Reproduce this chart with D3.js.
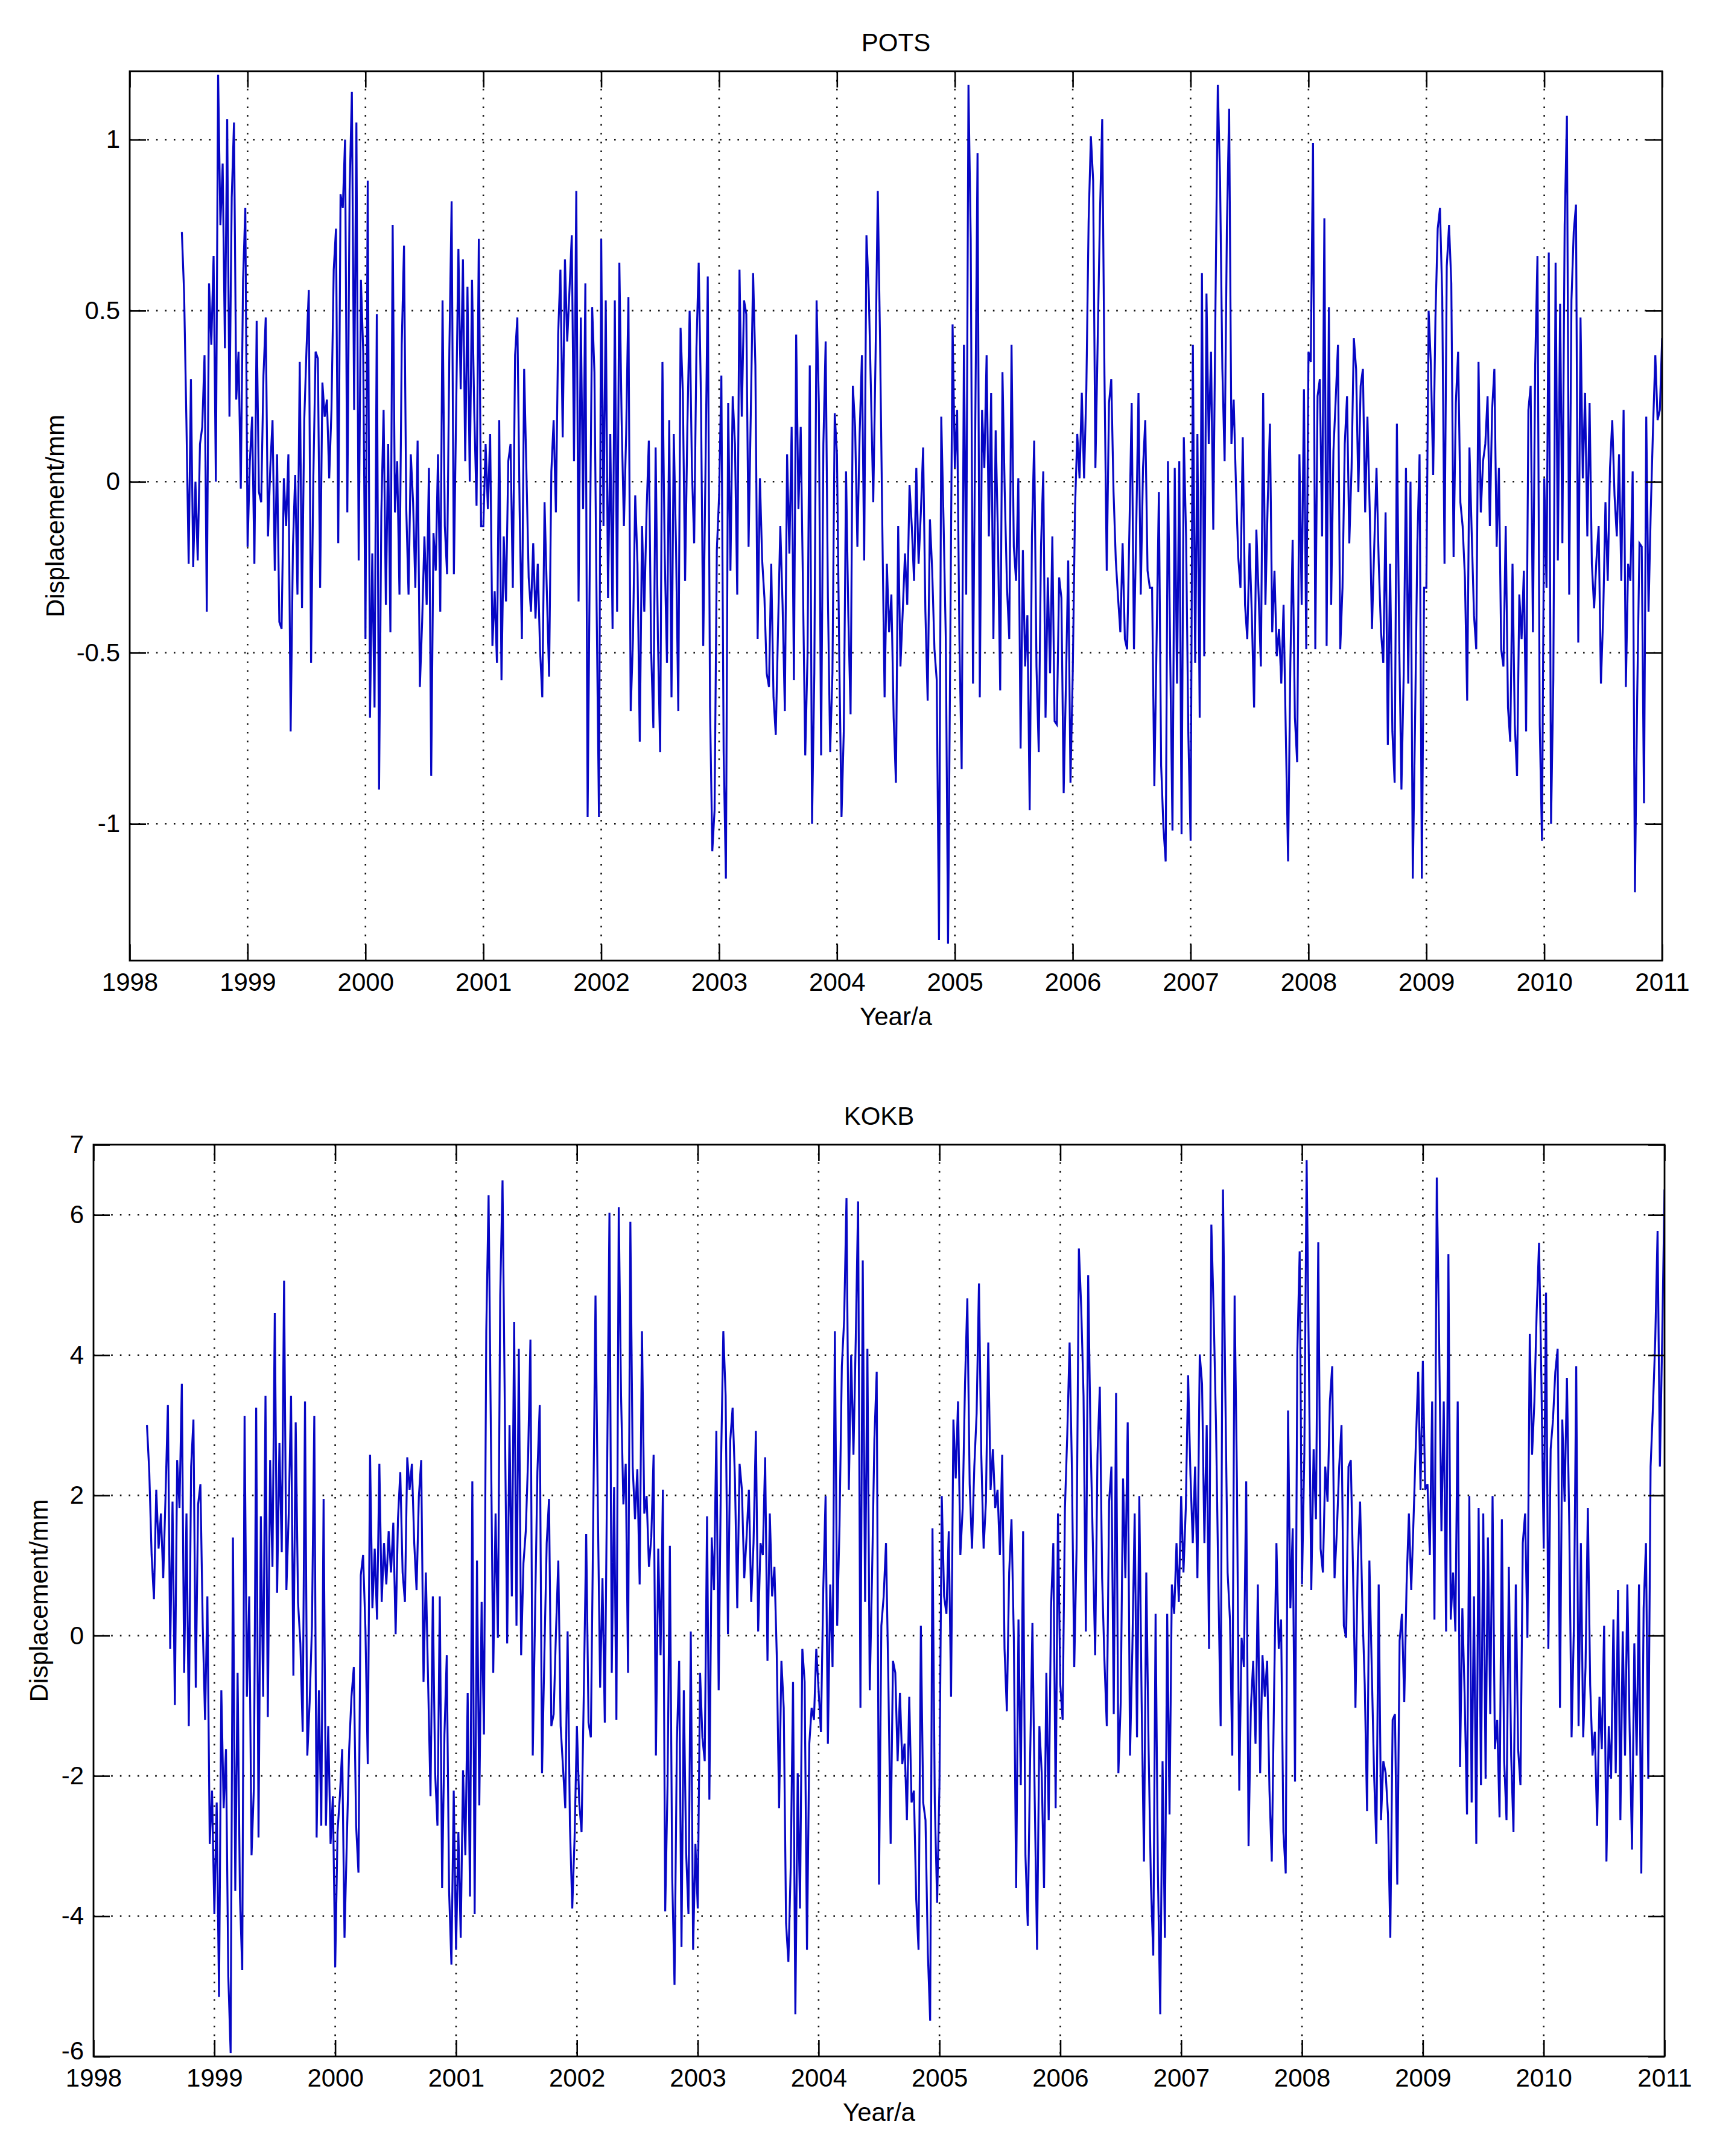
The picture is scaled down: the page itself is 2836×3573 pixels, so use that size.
<!doctype html>
<html>
<head>
<meta charset="utf-8">
<script src="https://d3js.org/d3.v7.min.js"></script>
<style>
  body { margin: 0; background: #fff; }
  svg text {
    font-family: "Liberation Sans Narrow", "Liberation Sans", Arial, sans-serif;
    font-size: 42px;
    fill: #000;
  }
</style>
</head>
<body>
<div id="chart"></div>
<script>

// weekly solutions, first epoch is 29 weeks before 1999.0
var firstEpoch = 1999 - 29 / 52;
var weeksPerYear = 52;

var yearTicks = [1998, 1999, 2000, 2001, 2002, 2003, 2004, 2005, 2006, 2007, 2008, 2009, 2010, 2011];
var potsTicks = [-1, -0.5, 0, 0.5, 1];
var kokbTicks = [-6, -4, -2, 0, 2, 4, 6, 7];

// POTS, mm (one line per calendar year)
var potsValues = [
  0.73,0.55,0.18,-0.24,0.30,-0.25,0.0,-0.23,0.11,0.16,0.37,-0.38,0.58,0.40,0.66,0.0,1.19,0.75,0.93,0.39,1.06,0.19,0.83,1.05,0.24,0.38,-0.02,0.59,0.8,
  -0.19,0.06,0.19,-0.24,0.47,-0.03,-0.06,0.31,0.48,-0.16,0.04,0.18,-0.26,0.08,-0.41,-0.43,0.01,-0.13,0.08,-0.73,-0.19,0.02,-0.33,0.35,-0.37,0.18,0.39,0.56,-0.53,0.01,0.38,0.36,-0.31,0.29,0.19,0.24,0.01,0.21,0.62,0.74,-0.18,0.84,0.80,1.0,-0.09,0.85,1.14,0.21,1.05,-0.23,0.59,0.38,
  -0.46,0.88,-0.69,-0.21,-0.66,0.49,-0.9,-0.09,0.21,-0.36,0.11,-0.44,0.75,-0.09,0.06,-0.33,0.40,0.69,-0.08,-0.33,0.08,-0.06,-0.31,0.12,-0.6,-0.41,-0.16,-0.36,0.04,-0.86,-0.15,-0.26,0.08,-0.38,0.53,-0.13,-0.27,0.38,0.82,-0.27,0.21,0.68,0.27,0.65,0.06,0.57,0.0,0.59,0.20,-0.07,0.71,-0.13,
  -0.13,0.11,-0.08,0.14,-0.48,-0.32,-0.53,0.18,-0.58,-0.16,-0.35,0.06,0.11,-0.31,0.37,0.48,-0.08,-0.46,0.33,0.03,-0.28,-0.38,-0.18,-0.40,-0.24,-0.49,-0.63,-0.06,-0.32,-0.57,0.03,0.18,-0.09,0.43,0.62,0.13,0.65,0.41,0.56,0.72,0.06,0.85,-0.35,0.48,-0.08,0.58,-0.98,-0.2,0.51,0.32,-0.38,-0.98,
  0.71,-0.13,0.53,-0.34,0.14,-0.43,0.53,-0.38,0.64,0.18,-0.13,0.14,0.54,-0.67,-0.46,-0.04,-0.24,-0.76,-0.13,-0.38,-0.09,0.12,-0.49,-0.72,0.10,-0.46,-0.79,0.35,-0.21,-0.53,0.18,-0.63,0.14,-0.19,-0.67,0.45,0.26,-0.29,0.16,0.50,0.04,-0.18,0.39,0.64,0.24,-0.48,0.04,0.60,-0.66,-1.08,-0.96,-0.2,
  -0.04,0.31,-0.79,-1.16,0.23,-0.26,0.25,0.11,-0.33,0.62,0.19,0.53,0.49,-0.19,0.21,0.61,0.34,-0.46,0.01,-0.23,-0.34,-0.56,-0.6,-0.24,-0.63,-0.74,-0.43,-0.13,-0.36,-0.67,0.08,-0.21,0.16,-0.58,0.43,-0.08,0.16,-0.31,-0.8,-0.51,0.34,-1.0,-0.56,0.53,0.23,-0.8,0.11,0.41,-0.34,-0.79,-0.56,0.2,
  0.08,-0.51,-0.98,-0.73,0.03,-0.39,-0.68,0.28,0.16,-0.19,0.14,0.37,-0.23,0.72,0.56,0.26,-0.06,0.36,0.85,0.41,-0.13,-0.63,-0.24,-0.44,-0.33,-0.69,-0.88,-0.13,-0.54,-0.38,-0.21,-0.36,-0.01,-0.13,-0.29,0.04,-0.24,-0.09,0.10,-0.38,-0.64,-0.11,-0.26,-0.49,-0.58,-1.34,0.19,-0.11,-0.46,-1.35,-0.45,0.46,
  0.04,0.21,-0.46,-0.84,0.40,-0.33,1.16,0.71,-0.59,0.16,0.96,-0.63,0.21,0.04,0.37,-0.16,0.26,-0.46,0.15,-0.16,-0.61,0.32,-0.03,-0.31,-0.46,0.40,-0.19,-0.29,0.01,-0.78,-0.2,-0.54,-0.39,-0.96,-0.16,0.12,-0.54,-0.79,-0.19,0.03,-0.69,-0.28,-0.56,-0.16,-0.70,-0.71,-0.28,-0.34,-0.91,-0.59,-0.23,-0.88,
  -0.56,-0.08,0.14,0.01,0.26,0.01,0.27,0.76,1.01,0.88,0.04,0.41,0.78,1.06,0.31,-0.26,0.23,0.30,-0.03,-0.23,-0.34,-0.44,-0.18,-0.46,-0.49,-0.14,0.23,-0.49,-0.14,0.26,-0.33,0.04,0.18,-0.26,-0.31,-0.31,-0.89,-0.46,-0.03,-0.83,-1.01,-1.11,0.06,-0.51,-1.02,0.04,-0.59,0.06,-1.03,0.13,-0.16,-0.74,
  -1.05,0.40,-0.53,0.14,-0.69,0.61,-0.51,0.55,0.11,0.38,-0.14,0.54,1.16,0.88,0.33,0.06,0.74,1.09,0.11,0.24,-0.01,-0.22,-0.31,0.13,-0.36,-0.46,-0.18,-0.39,-0.66,-0.14,-0.33,-0.54,0.26,-0.36,-0.06,0.17,-0.44,-0.26,-0.51,-0.43,-0.59,-0.36,-0.74,-1.11,-0.53,-0.17,-0.69,-0.82,0.08,-0.36,0.27,-0.49,
  0.38,0.35,0.99,-0.49,0.25,0.30,-0.16,0.77,-0.48,0.51,-0.36,0.09,0.24,0.40,-0.49,-0.31,0.11,0.25,-0.18,0.04,0.42,0.33,-0.03,0.28,0.33,-0.09,0.19,-0.08,-0.43,-0.19,0.04,-0.24,-0.44,-0.53,-0.09,-0.77,-0.24,-0.73,-0.88,0.17,-0.46,-0.90,-0.56,0.04,-0.59,0.0,-1.16,-0.71,-0.19,0.08,-1.16,-0.31,
  -0.31,0.50,0.34,0.02,0.48,0.74,0.80,0.54,-0.24,0.63,0.75,0.58,-0.22,0.23,0.38,-0.06,-0.13,-0.28,-0.64,0.10,-0.15,-0.39,-0.49,0.35,-0.09,0.06,0.11,0.25,-0.13,0.21,0.33,-0.19,0.04,-0.49,-0.54,-0.13,-0.66,-0.76,-0.24,-0.71,-0.86,-0.33,-0.46,-0.26,-0.73,0.21,0.28,-0.44,0.34,0.66,-0.71,-1.05,
  0.01,-0.31,0.67,-1.0,-0.58,0.64,-0.23,0.52,-0.18,0.75,1.07,-0.33,0.53,0.73,0.81,-0.47,0.48,0.01,0.26,-0.16,0.23,-0.24,-0.37,-0.23,-0.13,-0.59,-0.39,-0.06,-0.29,0.04,0.18,-0.04,-0.16,0.08,-0.29,0.21,-0.60,-0.24,-0.29,0.03,-1.2,-0.63,-0.18,-0.19,-0.94,0.19,-0.38,-0.08,0.16,0.37,0.18,0.21,
  0.42
];

// KOKB, mm
var kokbValues = [
  3.0,2.33,1.15,0.52,2.08,1.24,1.74,0.82,2.0,3.29,-0.19,1.91,-0.99,2.5,1.82,3.59,-0.53,1.74,-1.29,2.41,3.08,-0.74,1.87,2.16,0.14,-1.2,0.56,-2.97,-2.21,
  -3.97,-2.38,-5.15,-0.78,-2.46,-1.62,-4.86,-5.95,1.40,-3.64,-0.53,-3.72,-4.77,3.13,-0.87,0.56,-3.13,-2.17,3.25,-2.88,1.70,-0.87,3.42,-1.16,2.5,0.98,4.6,0.61,2.75,1.19,5.06,0.65,1.74,3.42,-0.57,3.04,0.48,-0.11,-1.37,3.34,-1.71,-0.95,0.14,3.13,-2.88,-0.78,-2.71,1.95,-2.71,-1.29,-2.97,-2.29,
  -4.73,-2.8,-2.29,-1.62,-4.31,-2.92,-1.62,-0.87,-0.45,-2.71,-3.38,0.86,1.15,0.10,-1.83,2.58,0.39,1.24,0.23,2.45,0.48,1.32,0.73,1.49,0.90,1.61,0.02,1.66,2.33,0.90,0.48,2.54,2.08,2.45,1.32,0.65,1.99,2.5,-0.66,0.90,-0.70,-2.29,0.56,-1.96,-2.71,0.56,-3.6,-1.41,-0.28,-3.64,-4.69,-2.21,
  -4.48,-2.8,-4.31,-1.92,-3.13,-0.82,-3.72,2.2,-3.97,1.07,-2.42,0.48,-1.41,4.34,6.28,2.83,-0.53,1.74,-0.03,4.85,6.49,3.17,-0.11,3.0,0.56,4.47,0.14,4.09,-0.28,1.03,1.49,2.54,4.22,-1.71,0.31,2.33,3.29,-1.96,-0.28,1.32,1.95,-1.29,-1.12,0.06,1.07,-1.29,-1.87,-2.46,0.06,-2.71,-3.89,-2.88,
  -1.29,-2.38,-2.8,-0.74,1.45,-1.24,-1.45,1.57,4.85,1.82,-0.74,0.82,-1.24,2.33,6.03,-0.53,2.12,-1.2,6.11,3.42,1.87,2.45,-0.53,5.9,2.41,1.66,2.37,0.73,4.34,1.74,1.99,0.98,1.40,2.58,-1.71,1.24,-0.28,2.08,-3.93,-2.13,1.28,-3.43,-4.98,-1.54,-0.36,-4.44,-0.78,-3.09,-3.97,0.06,-4.48,-2.97,
  -3.89,-0.53,-1.45,-1.79,1.70,-2.34,1.40,0.65,2.92,-0.78,2.41,4.34,3.42,0.02,2.79,3.25,2.24,0.39,2.45,2.08,0.82,1.40,2.08,0.48,1.32,2.92,0.06,1.32,1.15,2.54,-0.36,1.74,0.56,0.98,-0.28,-2.46,-0.36,-1.03,-4.1,-4.65,-3.3,-0.66,-5.4,-1.96,-3.89,-0.19,-0.66,-4.48,-1.54,-1.03,-1.2,-0.19,
  -0.78,-1.37,0.65,1.99,-1.54,0.73,-0.45,4.34,0.14,1.57,3.84,4.51,6.24,2.08,4.0,2.58,4.26,6.19,-1.03,5.35,0.48,4.09,-0.78,0.86,2.79,3.76,-3.55,0.14,0.56,1.32,-0.61,-2.97,-0.36,-0.53,-1.79,-0.82,-1.83,-1.54,-2.63,-0.87,-2.38,-2.21,-3.76,-4.48,0.14,-2.38,-2.63,-4.52,-5.49,1.53,-2.38,-3.81,
  -2.13,1.99,0.56,0.31,1.49,-0.87,3.08,2.24,3.34,1.15,1.82,3.59,4.81,2.16,1.24,2.41,3.17,5.02,2.58,1.24,1.91,4.18,2.08,2.66,1.82,2.08,1.15,2.58,-0.19,-1.08,0.90,1.66,-0.03,-3.6,0.23,-2.13,1.49,-3.13,-4.14,-1.79,0.18,-2.34,-4.48,-1.29,-1.96,-3.6,-0.53,-2.63,0.39,1.32,-2.46,1.74,
  -0.70,-1.2,1.82,2.87,4.18,2.37,-0.45,1.24,5.52,4.68,3.42,0.06,5.14,2.83,1.32,-0.28,2.58,3.55,0.82,-0.36,-1.29,1.91,2.41,-1.12,3.46,-1.96,-0.95,2.24,0.82,3.04,-1.71,-0.19,1.74,-1.45,1.99,-0.95,-3.22,0.90,-1.62,-3.55,-4.56,0.31,-3.39,-5.4,-1.79,-4.31,0.31,-2.55,0.73,0.31,1.32,0.48,
  1.99,0.90,1.82,3.71,2.29,1.32,2.41,0.82,4.01,3.59,1.32,3.0,-0.19,5.86,4.6,3.0,0.77,-1.29,6.36,3.5,0.90,0.23,-1.71,4.85,2.24,-2.21,-0.03,-0.45,2.2,-3.0,-1.03,-0.36,-1.54,0.73,-1.96,-0.28,-0.87,-0.36,-2.21,-3.22,-0.78,1.32,-0.19,0.23,-2.8,-3.39,3.21,0.39,1.53,-2.08,4.05,5.48,
  0.73,2.58,6.78,3.76,0.65,2.66,1.66,5.61,1.24,0.90,2.41,1.91,3.34,3.84,0.82,1.49,2.41,3.0,0.14,-0.03,2.41,2.5,0.86,-1.03,1.07,1.91,0.39,-0.70,-2.5,1.07,-0.45,-1.96,-2.97,0.73,-2.63,-1.79,-1.96,-2.55,-4.31,-1.2,-1.12,-3.55,-0.07,0.31,-0.95,0.73,1.74,0.65,1.66,2.75,3.76,2.08,
  3.92,2.08,2.16,1.15,3.34,0.23,6.53,4.22,1.49,3.34,0.06,5.44,0.23,0.90,0.06,3.34,-1.87,0.39,-0.87,-2.55,1.99,-2.38,0.56,-2.97,1.82,-2.13,1.74,-2.04,1.40,-1.12,1.99,-1.62,-1.2,-2.59,1.66,-1.79,-2.63,0.98,-1.71,-2.8,0.73,-1.62,-2.13,1.32,1.74,-0.03,4.30,2.58,3.34,4.64,5.6,3.67,
  1.24,4.89,-0.19,2.66,3.08,3.76,4.09,-1.03,3.08,1.91,3.67,1.57,-1.45,0.14,3.84,-1.29,1.32,-1.45,-0.45,1.82,-0.70,-1.71,-1.37,-2.71,-0.87,-1.62,0.14,-3.22,-1.29,-2.04,0.23,-1.96,0.65,-2.63,0.06,-1.71,0.73,-1.37,-3.05,-0.11,-1.71,0.73,-3.39,0.39,1.32,-2.04,2.41,3.25,4.22,5.77,2.41,4.26,
  6.36
];

var svg = d3.select("#chart")
  .append("svg")
    .attr("width", 2836)
    .attr("height", 3573);

var panels = [
  { id: "pots", title: "POTS", values: potsValues, ticks: potsTicks, domain: [-1.4, 1.2],
    left: 215, right: 2755, top: 118, bottom: 1592, ylabelX: -109 },
  { id: "kokb", title: "KOKB", values: kokbValues, ticks: kokbTicks, domain: [-6, 7],
    left: 155, right: 2759, top: 1897, bottom: 3408, ylabelX: -76 }
];

var tickLen = 27;

panels.forEach(function(p) {
  var w = p.right - p.left,
      h = p.bottom - p.top;

  var g = svg.append("g")
    .attr("transform", "translate(" + p.left + "," + p.top + ")");

  var x = d3.scaleLinear()
    .domain([yearTicks[0], yearTicks[yearTicks.length - 1]])
    .range([0, w]);
  var y = d3.scaleLinear()
    .domain(p.domain)
    .range([h, 0]);

  g.append("clipPath")
    .attr("id", "clip-" + p.id)
    .append("rect")
      .attr("width", w)
      .attr("height", h);

  // dotted grid
  g.selectAll(".vgrid")
    .data(yearTicks.slice(1, -1))
    .enter()
    .append("line")
      .attr("x1", function(d) { return x(d); })
      .attr("x2", function(d) { return x(d); })
      .attr("y1", 0)
      .attr("y2", h)
      .attr("stroke", "#111")
      .attr("stroke-width", 2.6)
      .attr("stroke-dasharray", "2.6,12");

  g.selectAll(".hgrid")
    .data(p.ticks.filter(function(d) { return d > p.domain[0] && d < p.domain[1]; }))
    .enter()
    .append("line")
      .attr("x1", 0)
      .attr("x2", w)
      .attr("y1", function(d) { return y(d); })
      .attr("y2", function(d) { return y(d); })
      .attr("stroke", "#111")
      .attr("stroke-width", 2.6)
      .attr("stroke-dasharray", "2.6,12");

  // the series
  var line = d3.line()
    .x(function(d, i) { return x(firstEpoch + i / weeksPerYear); })
    .y(function(d) { return y(d); });

  g.append("path")
    .datum(p.values)
    .attr("clip-path", "url(#clip-" + p.id + ")")
    .attr("d", line)
    .attr("fill", "none")
    .attr("stroke", "#0606c4")
    .attr("stroke-width", 3.2)
    .attr("stroke-linejoin", "miter");

  // axes, ticks pointing inward on all four sides
  var fmt = function(d) { return String(d); };

  g.append("g")
    .attr("transform", "translate(0," + h + ")")
    .call(d3.axisBottom(x).tickValues(yearTicks).tickFormat(fmt)
      .tickSizeInner(-tickLen).tickSizeOuter(0).tickPadding(20));
  g.append("g")
    .call(d3.axisTop(x).tickValues(yearTicks).tickFormat("")
      .tickSizeInner(-tickLen).tickSizeOuter(0));
  var yAxis = g.append("g")
    .call(d3.axisLeft(y).tickValues(p.ticks).tickFormat(fmt)
      .tickSizeInner(-tickLen).tickSizeOuter(0).tickPadding(16));
  g.append("g")
    .attr("transform", "translate(" + w + ",0)")
    .call(d3.axisRight(y).tickValues(p.ticks).tickFormat("")
      .tickSizeInner(-tickLen).tickSizeOuter(0));

  // the lowest y label sits right at the corner, lift it a little
  yAxis.selectAll(".tick text")
    .filter(function(d) { return d === p.domain[0]; })
    .attr("dy", "0.1em");

  g.selectAll(".tick line")
    .attr("stroke", "#000")
    .attr("stroke-width", 2.6);
  g.selectAll(".domain").remove();

  g.append("rect")
    .attr("width", w)
    .attr("height", h)
    .attr("fill", "none")
    .attr("stroke", "#000")
    .attr("stroke-width", 2.8);

  // labels
  g.append("text")
    .attr("x", w / 2)
    .attr("y", -33)
    .attr("text-anchor", "middle")
    .text(p.title);

  g.append("text")
    .attr("x", w / 2)
    .attr("y", h + 107)
    .attr("text-anchor", "middle")
    .text("Year/a");

  g.append("text")
    .attr("transform", "translate(" + p.ylabelX + "," + (h / 2) + ")rotate(-90)")
    .attr("text-anchor", "middle")
    .text("Displacement/mm");
});

</script>
</body>
</html>
